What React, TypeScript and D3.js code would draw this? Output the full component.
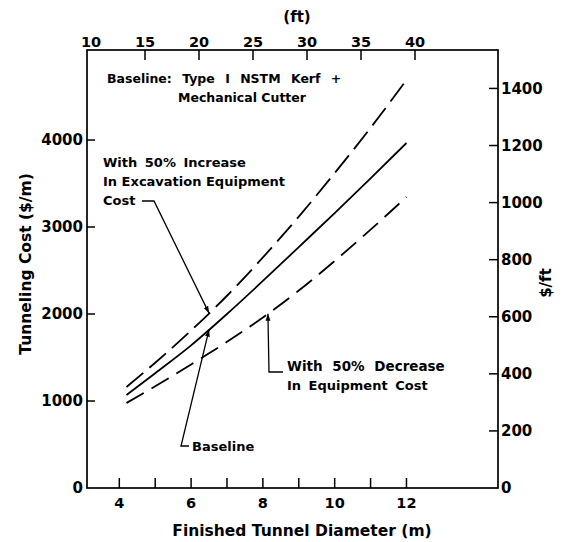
import React from "react";
import * as d3 from "d3";

const diameters = [4.2, 5, 6, 7, 8, 9, 10, 11, 12];
const baseline = [1069, 1320, 1640, 2000, 2380, 2770, 3160, 3560, 3966];
const increase = [1161, 1440, 1810, 2210, 2650, 3120, 3620, 4140, 4690];
const decrease = [977, 1170, 1420, 1680, 1960, 2270, 2610, 2970, 3345];

const leftTicks = [0, 1000, 2000, 3000, 4000];
const rightTicks = [0, 200, 400, 600, 800, 1000, 1200, 1400];
const bottomTicks = [4, 5, 6, 7, 8, 9, 10, 11, 12];
const bottomLabels = [4, 6, 8, 10, 12];
const topTicks = [10, 15, 20, 25, 30, 35, 40];

const FT = 0.3048;
const FONT = "DejaVu Sans, sans-serif";

function interp(xs: number[], ys: number[], v: number) {
  for (let i = 0; i < xs.length - 1; i++) {
    if (v >= xs[i] && v <= xs[i + 1]) {
      const t = (v - xs[i]) / (xs[i + 1] - xs[i]);
      return ys[i] + t * (ys[i + 1] - ys[i]);
    }
  }
  return ys[ys.length - 1];
}

export default function App() {
  const L = 87, R = 498, T = 50, B = 488;
  const x = d3.scaleLinear().domain([3.1, 14.55]).range([L, R]);
  const xft = d3.scaleLinear().domain([10, 40]).range([91, 415]);
  const y = d3.scaleLinear().domain([0, 5035]).range([B, T]);
  const yft = (v: number) => y(v / FT);

  const line = d3
    .line<number>()
    .x((_, i) => x(diameters[i]))
    .y((d) => y(d))
    .curve(d3.curveMonotoneX);

  const tipInc = [x(6.5), y(interp(diameters, increase, 6.5))];
  const tipBase = [x(6.5), y(interp(diameters, baseline, 6.5))];
  const tipDec = [x(8.14), y(interp(diameters, decrease, 8.14))];

  const txt = { fontFamily: FONT, fill: "#000", fontWeight: "bold" } as const;

  return (
    <svg width={580} height={542} style={{ position: "absolute", left: 0, top: 0, background: "#fff" }}>
      <defs>
        <marker id="arr" viewBox="0 0 10 10" refX="10" refY="5" markerWidth="7" markerHeight="7" orient="auto" markerUnits="userSpaceOnUse">
          <path d="M0,1.5 L10,5 L0,8.5 Z" fill="#000" />
        </marker>
      </defs>
      <rect x={0} y={0} width={580} height={542} fill="#fff" />
      {/* frame */}
      <rect x={L} y={T} width={R - L} height={B - T} fill="none" stroke="#000" strokeWidth={1.7} />

      {/* left ticks */}
      {leftTicks.map((t) => (
        <g key={"l" + t}>
          {t > 0 && <line x1={L} x2={L + 8} y1={y(t)} y2={y(t)} stroke="#000" strokeWidth={1.5} />}
          <text x={L - 4} y={y(t)} dy="0.35em" textAnchor="end" fontSize={15} {...txt}>{t}</text>
        </g>
      ))}
      {/* right ticks */}
      {rightTicks.map((t) => (
        <g key={"r" + t}>
          {t > 0 && <line x1={R - 9} x2={R} y1={yft(t)} y2={yft(t)} stroke="#000" strokeWidth={1.5} />}
          <text x={R + 3} y={yft(t)} dy="0.35em" textAnchor="start" fontSize={15} {...txt}>{t}</text>
        </g>
      ))}
      {/* bottom ticks */}
      {bottomTicks.map((t) => (
        <line key={"b" + t} x1={x(t)} x2={x(t)} y1={B} y2={B - 10} stroke="#000" strokeWidth={1.5} />
      ))}
      {bottomLabels.map((t) => (
        <text key={"bl" + t} x={x(t)} y={B + 20} textAnchor="middle" fontSize={14.5} {...txt}>{t}</text>
      ))}
      {/* top ticks (ft) */}
      {topTicks.map((t) => (
        <g key={"t" + t}>
          {xft(t) > L + 4 && <line x1={xft(t)} x2={xft(t)} y1={T} y2={T + 10} stroke="#000" strokeWidth={1.5} />}
          <text x={xft(t)} y={T - 3} textAnchor="middle" fontSize={14.5} {...txt}>{t}</text>
        </g>
      ))}

      {/* axis titles */}
      <text x={297} y={22} textAnchor="middle" fontSize={15} {...txt}>(ft)</text>
      <text x={302} y={536} textAnchor="middle" fontSize={15.5} {...txt}>Finished Tunnel Diameter (m)</text>
      <text transform="translate(31,264) rotate(-90)" textAnchor="middle" fontSize={15.5} {...txt}>Tunneling Cost ($/m)</text>
      <text transform="translate(551,283) rotate(-90)" textAnchor="middle" fontSize={15} {...txt}>$/ft</text>

      {/* curves */}
      <path d={line(increase) || ""} fill="none" stroke="#000" strokeWidth={1.8} strokeDasharray="22,8" />
      <path d={line(baseline) || ""} fill="none" stroke="#000" strokeWidth={1.8} />
      <path d={line(decrease) || ""} fill="none" stroke="#000" strokeWidth={1.8} strokeDasharray="20,9" />

      {/* annotations */}
      <text x={107} y={83} fontSize={12.5} wordSpacing={6} {...txt}>Baseline: Type I NSTM Kerf +</text>
      <text x={178} y={102} fontSize={12.5} {...txt}>Mechanical Cutter</text>

      <text x={103} y={167} fontSize={13} wordSpacing={3} {...txt}>With 50% Increase</text>
      <text x={103} y={186} fontSize={13} {...txt}>In Excavation Equipment</text>
      <text x={103} y={205} fontSize={13} {...txt}>Cost</text>
      <path d={`M142,201 L154,201 L${tipInc[0]},${tipInc[1]}`} fill="none" stroke="#000" strokeWidth={1.3} markerEnd="url(#arr)" />

      <text x={192} y={451} fontSize={13} {...txt}>Baseline</text>
      <path d={`M189,446 L181,446 L${tipBase[0]},${tipBase[1]}`} fill="none" stroke="#000" strokeWidth={1.3} markerEnd="url(#arr)" />

      <text x={287} y={371} fontSize={13.5} wordSpacing={5} {...txt}>With 50% Decrease</text>
      <text x={287} y={390} fontSize={13} wordSpacing={3} {...txt}>In Equipment Cost</text>
      <path d={`M283,372 L269,372 L${tipDec[0]},${tipDec[1]}`} fill="none" stroke="#000" strokeWidth={1.3} markerEnd="url(#arr)" />
    </svg>
  );
}
